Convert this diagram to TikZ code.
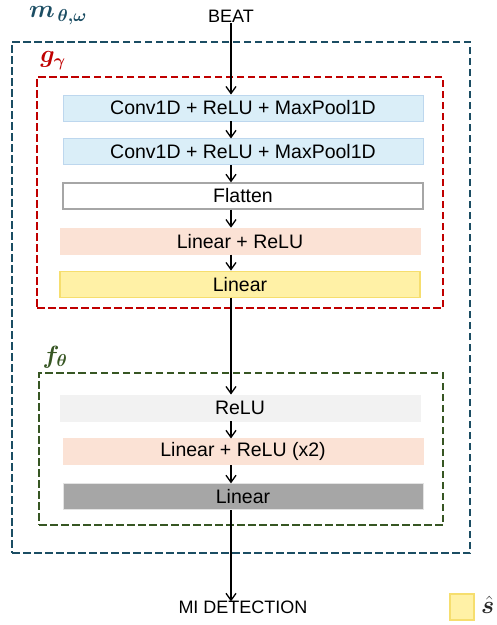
\documentclass[tikz,border=0pt]{standalone}
\usepackage{fontspec}
\usepackage{amsmath,bm}
\setmainfont{Liberation Sans}
\usetikzlibrary{positioning,fit,arrows.meta}
\definecolor{mframe}{HTML}{1B4D63}
\definecolor{gframe}{HTML}{C00000}
\definecolor{fframe}{HTML}{375623}
\definecolor{convfill}{HTML}{DAEEF8}
\definecolor{convline}{HTML}{BDD7EE}
\definecolor{peach}{HTML}{FBE2D5}
\definecolor{yelfill}{HTML}{FFF1A6}
\definecolor{yelline}{HTML}{F6DE6E}
\definecolor{lgrey}{HTML}{F2F2F2}
\definecolor{dgrey}{HTML}{A6A6A6}
\tikzset{
  lay/.style   ={rectangle, minimum width=360pt, minimum height=26pt, inner sep=0pt,
                 font=\fontsize{19.5}{21}\selectfont, line width=0.9pt},
  layc/.style  ={lay, fill=convfill, draw=convline},
  layw/.style  ={lay, fill=white, draw=dgrey, line width=1.3pt},
  layp/.style  ={lay, fill=peach, draw=peach},
  layy/.style  ={lay, fill=yelfill, draw=yelline, line width=1.2pt},
  layl/.style  ={lay, fill=lgrey, draw=lgrey},
  layd/.style  ={lay, fill=dgrey, draw=lgrey!80!dgrey},
  frame/.style ={rectangle, draw, inner sep=0pt, line width=2pt,
                 dash pattern=on 7.5pt off 3.5pt},
  io/.style    ={font=\fontsize{18}{20}\selectfont, inner sep=1pt},
  flab/.style  ={font=\fontsize{23}{25}\selectfont, inner sep=0pt},
  arr/.style   ={-{Straight Barb[length=7pt,width=10pt]}, line width=1.3pt}
}
\begin{document}
\begin{tikzpicture}[x=1pt,y=-1pt]
  \useasboundingbox (0,0) rectangle (497,625);

  % frames
  \node[frame, draw=mframe, fit={(12,42) (470,553)}] (mfr) {};
  \node[frame, draw=gframe, fit={(37,77) (443,308)}] (gfr) {};
  \node[frame, draw=fframe, fit={(39,373) (443,525)}] (ffr) {};
  \node[flab, text=mframe] (mlab) at (58,16) {$\bm{m}_{\,\bm{\theta,\omega}}$};
  \node[flab, text=gframe] (glab) at (53,61) {$\bm{g}_{\bm{\gamma}}$};
  \node[flab, text=fframe] (flab) at (55,357) {$\bm{f}_{\bm{\theta}}$};

  % g_gamma
  \node[io] (beat) at (231,16) {BEAT};
  \node[layc] (conv1) at (243,108) {Conv1D + ReLU + MaxPool1D};
  \node[layc,below=17pt of conv1] (conv2) {Conv1D + ReLU + MaxPool1D};
  \node[layw,below=17pt of conv2] (flat) {Flatten};
  \node[layp,below=18pt of flat,xshift=-3pt] (linr1) {Linear + ReLU};
  \node[layy,below=16pt of linr1] (lin1) {Linear};

  % f_theta
  \node[layl] (relu) at (240,408) {ReLU};
  \node[layp,below=17pt of relu,xshift=3pt] (linr2) {Linear + ReLU (x2)};
  \node[layd,below=18pt of linr2] (lin2) {Linear};
  \node[io] (mi) at (243,607) {MI DETECTION};

  \draw[arr] (beat.south) -- (beat |- conv1.north);
  \draw[arr] (conv1.south -| beat) -- (conv2.north -| beat);
  \draw[arr] (conv2.south -| beat) -- (flat.north -| beat);
  \draw[arr] (flat.south -| beat) -- (linr1.north -| beat);
  \draw[arr] (linr1.south -| beat) -- (lin1.north -| beat);
  \draw[arr] (lin1.south -| beat) -- (relu.north -| beat);
  \draw[arr] (relu.south -| beat) -- (linr2.north -| beat);
  \draw[arr] (linr2.south -| beat) -- (lin2.north -| beat);
  \draw[arr] (lin2.south -| beat) -- ([yshift=-2pt]mi.north -| beat);

  % legend
  \node[rectangle, fill=yelfill, draw=yelline, line width=1.2pt,
        minimum width=24pt, minimum height=26pt] (leg) at (462,607) {};
  \node[flab, anchor=west, text=black!85] (shat) at (481,605) {$\hat{\bm{s}}$};
\end{tikzpicture}
\end{document}
